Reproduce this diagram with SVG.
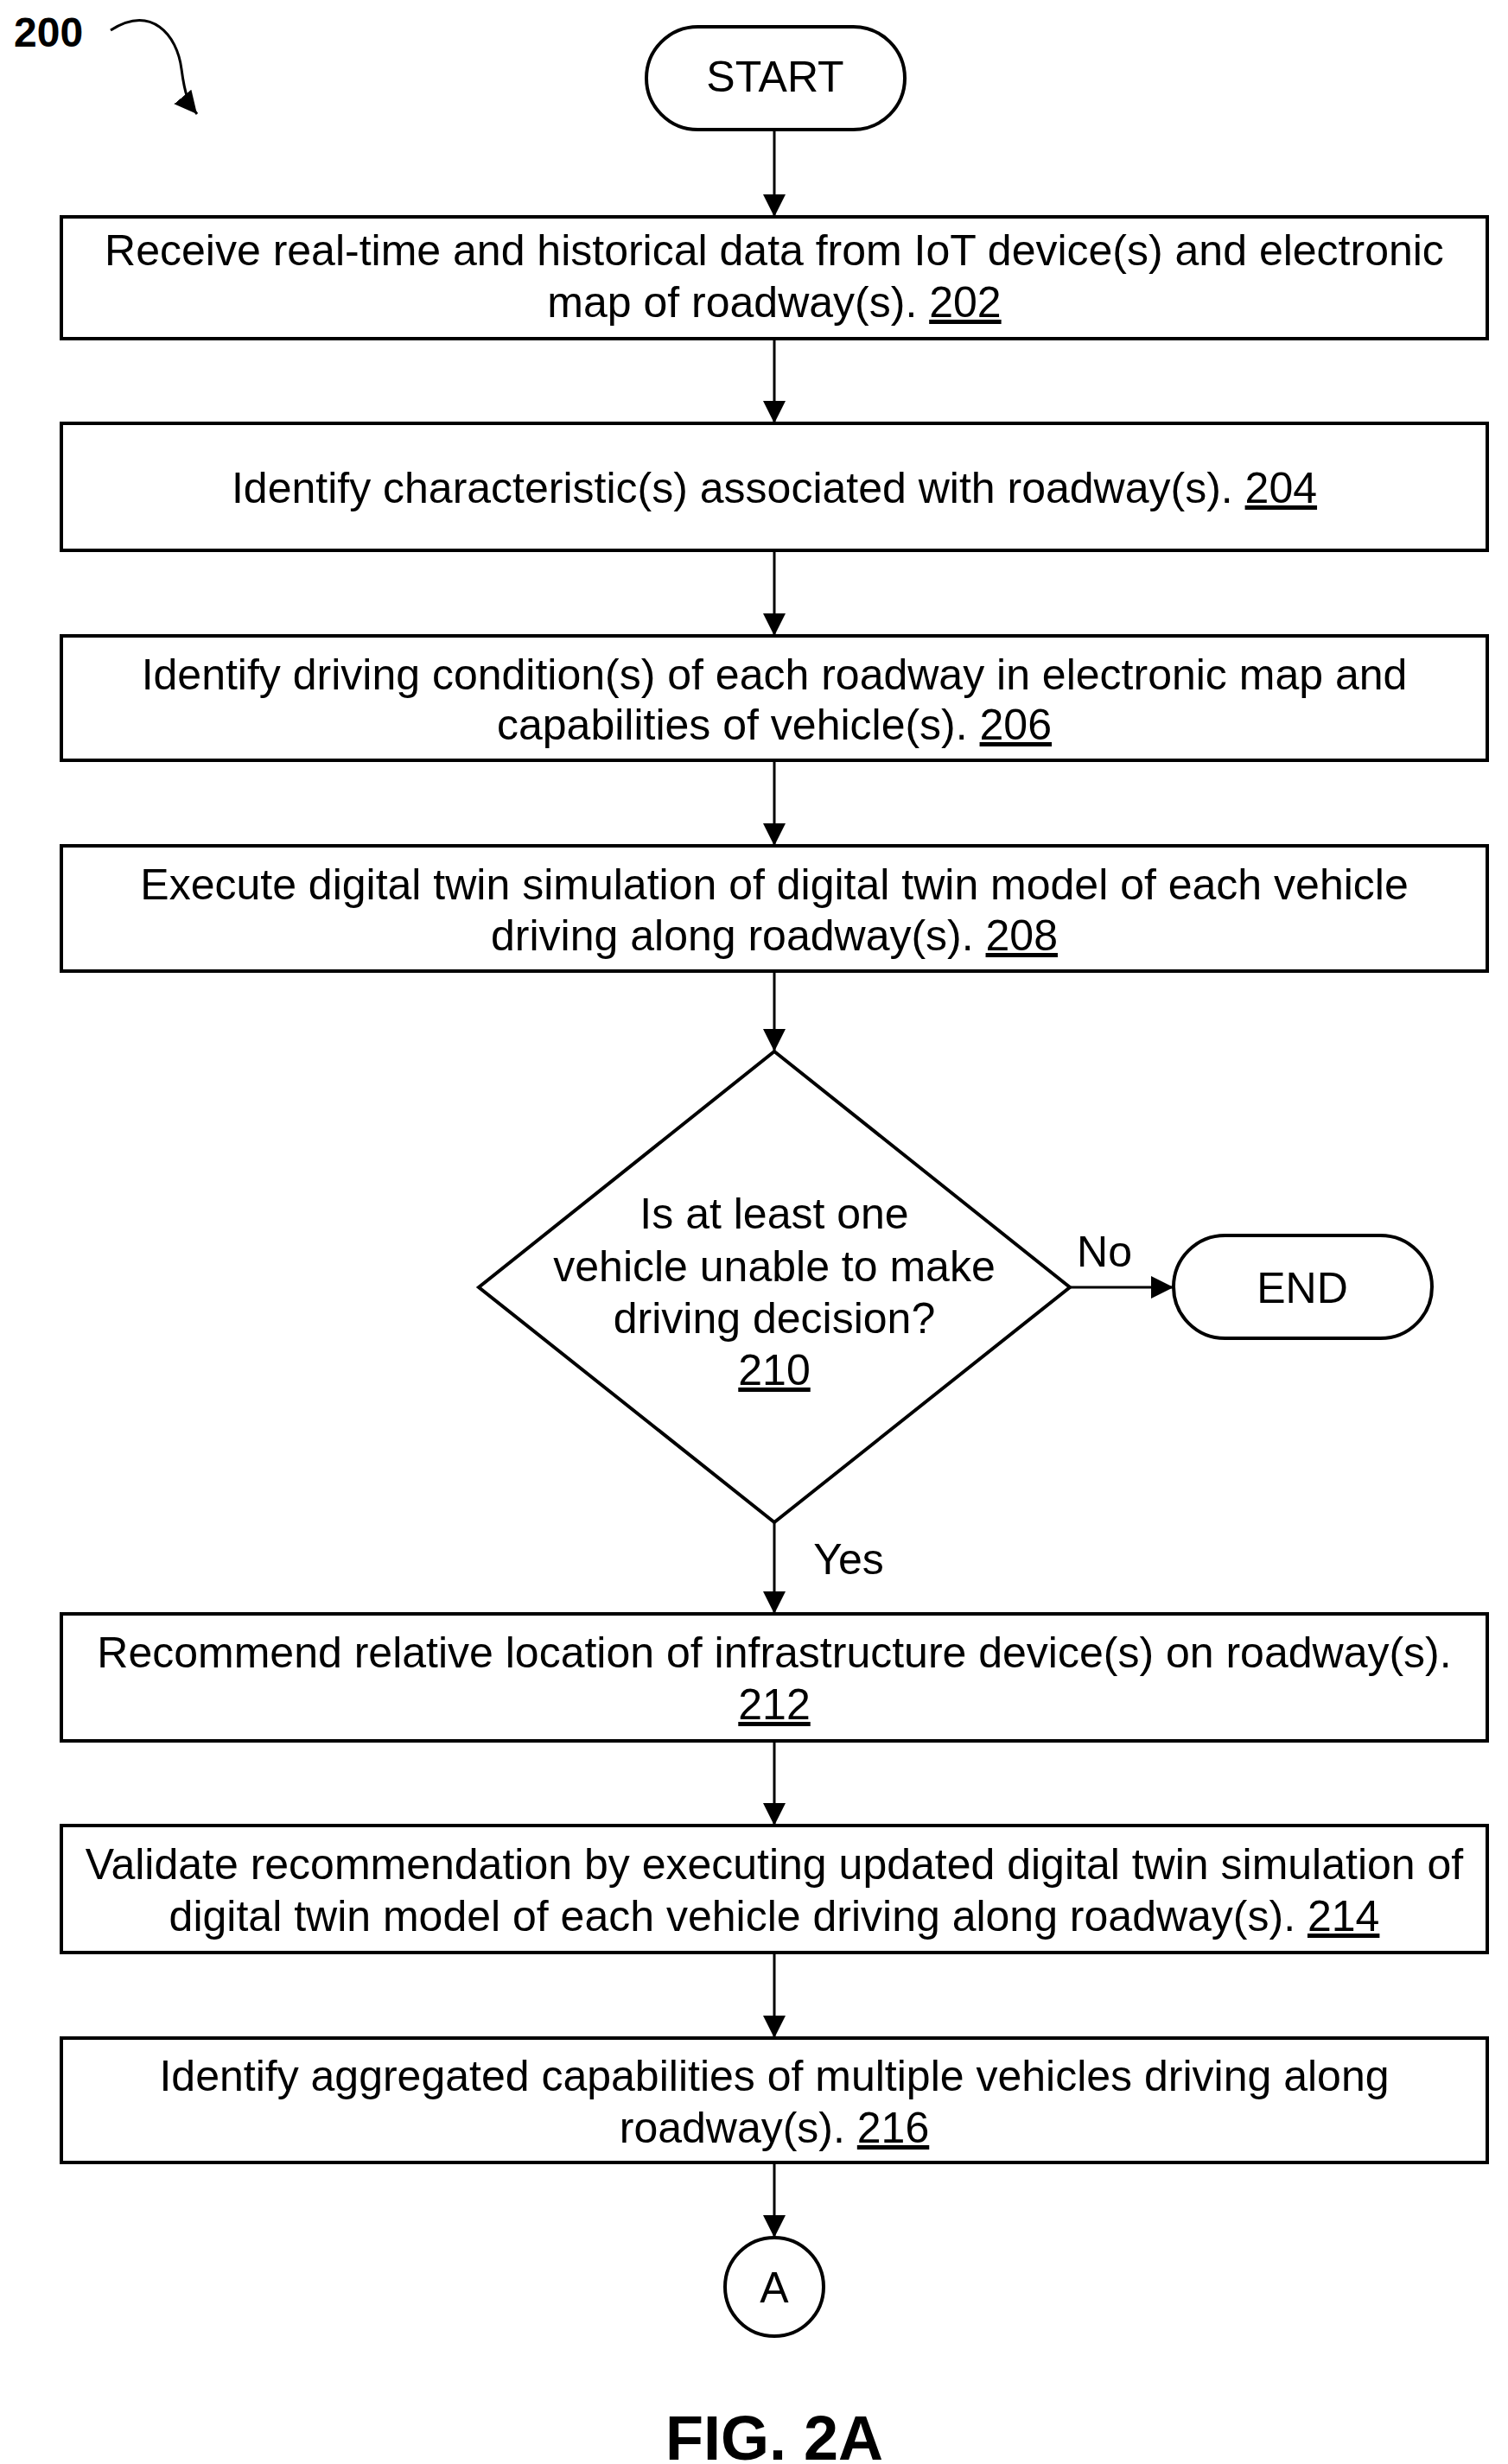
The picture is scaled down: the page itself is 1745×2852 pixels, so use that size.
<svg xmlns="http://www.w3.org/2000/svg" width="1745" height="2852" viewBox="0 0 1745 2852">
<style>
.b{fill:#fff;stroke:#000;stroke-width:4}
.t{font-family:"Liberation Sans",Arial,sans-serif;font-size:50px;text-anchor:middle;fill:#000}
.c{stroke:#000;stroke-width:3;fill:none}
.u{text-decoration:underline}
</style>
<defs>
<marker id="a" markerWidth="26" markerHeight="34" refX="26" refY="13" orient="auto" markerUnits="userSpaceOnUse"><path d="M0,0 L26,13 L0,26 z" fill="#000"/></marker></defs>
<g id="label200"><text x="16" y="54" font-family="Liberation Sans,sans-serif" font-size="48" font-weight="bold">200</text>
<path class="c" d="M128,35 C175,5 205,40 210,80 C214,110 218,120 228,132" marker-end="url(#a)"/></g>
<g id="connectors">
<line class="c" x1="896" y1="150" x2="896" y2="251" marker-end="url(#a)"/>
<line class="c" x1="896" y1="392" x2="896" y2="490" marker-end="url(#a)"/>
<line class="c" x1="896" y1="637" x2="896" y2="736" marker-end="url(#a)"/>
<line class="c" x1="896" y1="880" x2="896" y2="979" marker-end="url(#a)"/>
<line class="c" x1="896" y1="1124" x2="896" y2="1217" marker-end="url(#a)"/>
<line class="c" x1="1238" y1="1490" x2="1358" y2="1490" marker-end="url(#a)"/>
<line class="c" x1="896" y1="1762" x2="896" y2="1868" marker-end="url(#a)"/>
<line class="c" x1="896" y1="2015" x2="896" y2="2113" marker-end="url(#a)"/>
<line class="c" x1="896" y1="2260" x2="896" y2="2359" marker-end="url(#a)"/>
<line class="c" x1="896" y1="2503" x2="896" y2="2590" marker-end="url(#a)"/>
<text class="t" x="1278" y="1466">No</text>
<text class="t" x="982" y="1822">Yes</text>
</g>
<g id="start"><rect class="b" x="748" y="31" width="299" height="119" rx="59.5"/><text class="t" x="897" y="106">START</text></g>
<g id="n202"><rect class="b" x="71" y="251" width="1650" height="141"/><text class="t" x="896" y="307">Receive real-time and historical data from IoT device(s) and electronic</text><text class="t" x="896" y="367">map of roadway(s). <tspan class="u">202</tspan></text></g>
<g id="n204"><rect class="b" x="71" y="490" width="1650" height="147"/><text class="t" x="896" y="582">Identify characteristic(s) associated with roadway(s). <tspan class="u">204</tspan></text></g>
<g id="n206"><rect class="b" x="71" y="736" width="1650" height="144"/><text class="t" x="896" y="798">Identify driving condition(s) of each roadway in electronic map and</text><text class="t" x="896" y="856">capabilities of vehicle(s). <tspan class="u">206</tspan></text></g>
<g id="n208"><rect class="b" x="71" y="979" width="1650" height="145"/><text class="t" x="896" y="1041">Execute digital twin simulation of digital twin model of each vehicle</text><text class="t" x="896" y="1100">driving along roadway(s). <tspan class="u">208</tspan></text></g>
<g id="n210"><polygon class="b" points="896,1217 1238,1490 896,1762 554,1490"/>
<text class="t" x="896" y="1422">Is at least one</text><text class="t" x="896" y="1483">vehicle unable to make</text><text class="t" x="896" y="1543">driving decision?</text><text class="t u" x="896" y="1603">210</text></g>
<g id="end"><rect class="b" x="1358" y="1430" width="299" height="119" rx="59.5"/><text class="t" x="1507" y="1508">END</text></g>
<g id="n212"><rect class="b" x="71" y="1868" width="1650" height="147"/><text class="t" x="896" y="1930">Recommend relative location of infrastructure device(s) on roadway(s).</text><text class="t u" x="896" y="1990">212</text></g>
<g id="n214"><rect class="b" x="71" y="2113" width="1650" height="147"/><text class="t" x="896" y="2175">Validate recommendation by executing updated digital twin simulation of</text><text class="t" x="896" y="2235">digital twin model of each vehicle driving along roadway(s). <tspan class="u">214</tspan></text></g>
<g id="n216"><rect class="b" x="71" y="2359" width="1650" height="144"/><text class="t" x="896" y="2420">Identify aggregated capabilities of multiple vehicles driving along</text><text class="t" x="896" y="2480">roadway(s). <tspan class="u">216</tspan></text></g>
<g id="connA"><circle class="b" cx="896" cy="2647" r="57"/><text class="t" x="896" y="2665">A</text></g>
<text x="896" y="2847" font-family="Liberation Sans,sans-serif" font-size="72" font-weight="bold" text-anchor="middle">FIG. 2A</text>
</svg>
